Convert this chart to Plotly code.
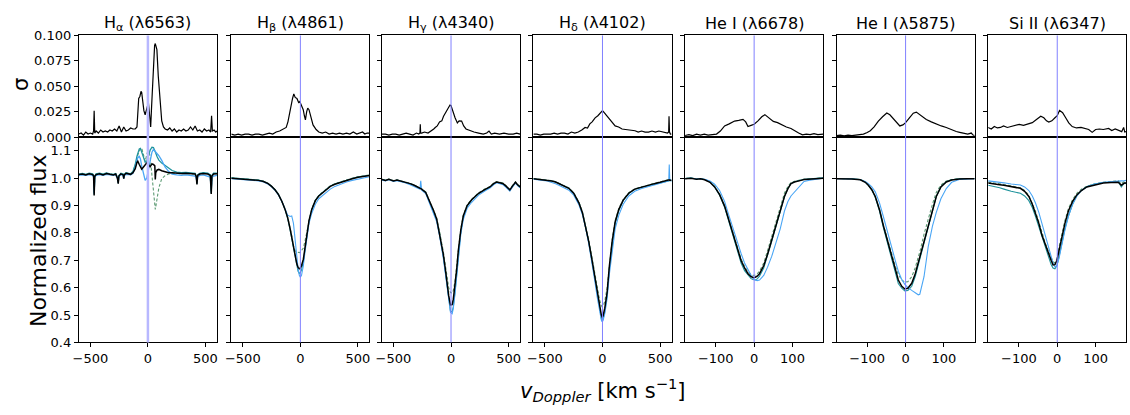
import plotly.graph_objects as go

# ---------------- tick labels / categories ----------------
TITLES = ["H<sub>α</sub> (λ6563)", "H<sub>β</sub> (λ4861)", "H<sub>γ</sub> (λ4340)",
          "H<sub>δ</sub> (λ4102)", "He I (λ6678)", "He I (λ5875)", "Si II (λ6347)"]
X_TICKS_WIDE = [-500, 0, 500]
X_TICKS_NARROW = [-100, 0, 100]
SIG_TICKS = [0.0, 0.025, 0.05, 0.075, 0.1]
SIG_LABELS = ["0.000", "0.025", "0.050", "0.075", "0.100"]
FLUX_TICKS = [0.4, 0.5, 0.6, 0.7, 0.8, 0.9, 1.0, 1.1]
FLUX_LABELS = ["0.4", "0.5", "0.6", "0.7", "0.8", "0.9", "1.0", "1.1"]
REST_V = 0

# ---------------- H alpha ----------------
HA_SIG_V = [-600,-580,-560,-540,-520,-500,-480,-472,-467,-462,
            -450,-430,-410,-390,-370,-350,-330,-310,-290,-270,
            -250,-230,-210,-190,-170,-150,-130,-110,-95,-88,
            -80,-70,-60,-54,-45,-35,-24,-12,4,12,
            18,24,32,45,58,64,70,78,90,105,
            120,135,150,170,190,210,230,250,270,290,
            310,330,350,370,390,410,430,450,470,490,
            510,530,545,553,560,575,590,600]
HA_SIG = [0.003,0.004,0.002,0.005,0.003,0.004,0.003,0.006,0.026,0.004,
          0.006,0.004,0.007,0.005,0.006,0.005,0.007,0.006,0.008,0.006,
          0.011,0.005,0.010,0.006,0.007,0.009,0.008,0.008,0.010,0.020,
          0.038,0.040,0.045,0.044,0.035,0.026,0.022,0.028,0.034,0.025,
          0.015,0.010,0.030,0.068,0.090,0.092,0.088,0.086,0.060,0.032,
          0.016,0.010,0.008,0.007,0.009,0.006,0.008,0.005,0.007,0.006,
          0.008,0.006,0.007,0.010,0.007,0.011,0.006,0.007,0.005,0.008,
          0.006,0.007,0.005,0.021,0.006,0.007,0.005,0.006]
HA_V = [-600,-570,-540,-510,-480,-472,-467,-462,-450,-420,
        -390,-360,-330,-300,-280,-265,-258,-252,-235,-215,
        -210,-205,-190,-170,-150,-130,-110,-95,-88,-75,
        -65,-54,-40,-24,-10,4,19,35,48,60,
        64,68,80,95,120,150,180,210,250,290,
        330,370,410,420,426,432,450,480,520,542,
        550,556,570,600]
HA_MEAN = [1.013,1.015,1.012,1.016,1.013,1.008,0.937,1.006,1.013,1.016,
           1.012,1.017,1.014,1.012,1.015,1.000,0.980,1.008,1.016,1.012,
           0.998,1.012,1.018,1.016,1.014,1.020,1.035,1.058,1.062,1.050,
           1.042,1.033,1.040,1.050,1.056,1.050,1.042,1.052,1.050,1.045,
           0.995,1.020,1.030,1.032,1.027,1.024,1.020,1.020,1.018,1.017,
           1.018,1.016,1.015,1.005,0.977,1.010,1.015,1.017,1.015,1.010,
           0.942,1.008,1.015,1.016]
HA_BLUE = [1.010,1.012,1.010,1.013,1.010,1.005,0.945,1.004,1.010,1.013,
           1.010,1.014,1.012,1.010,1.013,1.000,0.985,1.006,1.013,1.010,
           0.998,1.010,1.014,1.012,1.012,1.018,1.040,1.065,1.075,1.080,
           1.070,1.045,1.015,0.992,1.000,1.030,1.070,1.095,1.105,1.100,
           1.098,1.096,1.090,1.082,1.065,1.040,1.025,1.015,1.012,1.010,
           1.012,1.010,1.008,1.000,0.985,1.005,1.010,1.012,1.008,1.004,
           0.955,1.002,1.008,1.010]
HA_TEAL = [1.015,1.017,1.014,1.018,1.016,1.010,0.940,1.008,1.016,1.018,
           1.015,1.019,1.016,1.014,1.017,1.003,0.982,1.010,1.018,1.015,
           1.000,1.014,1.020,1.018,1.016,1.025,1.050,1.080,1.094,1.107,
           1.109,1.095,1.072,1.058,1.062,1.085,1.102,1.113,1.112,1.100,
           1.097,1.092,1.078,1.066,1.055,1.045,1.035,1.028,1.022,1.020,
           1.021,1.019,1.018,1.008,0.980,1.012,1.018,1.020,1.018,1.012,
           0.945,1.010,1.018,1.018]
HA_GREEN = [1.014,1.016,1.013,1.017,1.015,1.009,0.950,1.007,1.015,1.017,
            1.014,1.018,1.015,1.013,1.016,1.004,0.985,1.009,1.017,1.014,
            1.002,1.013,1.019,1.017,1.015,1.022,1.045,1.070,1.085,1.100,
            1.108,1.110,1.090,1.062,1.085,1.108,1.080,1.000,0.935,0.888,
            0.886,0.895,0.930,0.965,0.998,1.010,1.015,1.018,1.017,1.016,
            1.017,1.016,1.015,1.006,0.985,1.010,1.016,1.018,1.016,1.010,
            0.950,1.008,1.016,1.017]

# ---------------- H beta ----------------
HB_SIG_V = [-600,-570,-540,-510,-480,-450,-420,-390,-360,-330,
            -300,-270,-240,-210,-180,-160,-140,-123,-108,-94,
            -80,-68,-57,-45,-30,-15,-5,10,25,35,
            44,55,64,75,90,110,137,160,190,220,
            250,280,310,340,370,400,430,460,490,520,
            540,560,580,600]
HB_SIG = [0.003,0.002,0.003,0.002,0.003,0.003,0.002,0.003,0.003,0.002,
          0.003,0.004,0.003,0.005,0.006,0.007,0.008,0.0095,0.015,0.024,
          0.031,0.038,0.0425,0.039,0.038,0.034,0.035,0.031,0.027,0.021,
          0.017,0.025,0.0285,0.027,0.020,0.012,0.0075,0.005,0.004,0.005,
          0.003,0.004,0.003,0.004,0.003,0.004,0.003,0.005,0.003,0.004,
          0.005,0.003,0.004,0.004]
HB_V = [-600,-550,-500,-450,-400,-364,-320,-280,-250,-219,
        -190,-160,-133,-110,-89,-75,-60,-45,-31,-20,
        -9,0,10,26,40,55,75,99,130,160,
        186,220,260,300,359,400,450,500,550,600]
HB_MEAN = [1.000,0.998,0.996,0.995,0.994,0.992,0.988,0.980,0.970,0.957,
           0.940,0.915,0.886,0.855,0.816,0.785,0.745,0.712,0.687,0.674,
           0.669,0.672,0.680,0.704,0.745,0.792,0.845,0.886,0.918,0.935,
           0.945,0.958,0.970,0.978,0.986,0.993,0.998,1.003,1.007,1.010]
HB_BLUE = [0.998,0.996,0.994,0.993,0.992,0.990,0.986,0.978,0.968,0.955,
           0.938,0.915,0.888,0.865,0.860,0.862,0.835,0.770,0.710,0.670,
           0.645,0.638,0.645,0.680,0.730,0.785,0.835,0.872,0.905,0.925,
           0.935,0.948,0.960,0.970,0.980,0.986,0.992,0.997,1.002,1.005]
HB_TEAL = [1.001,0.999,0.997,0.996,0.995,0.993,0.989,0.981,0.971,0.958,
           0.941,0.915,0.885,0.852,0.810,0.778,0.742,0.705,0.675,0.660,
           0.652,0.655,0.665,0.695,0.740,0.790,0.843,0.886,0.918,0.936,
           0.946,0.959,0.971,0.979,0.987,0.994,0.999,1.004,1.008,1.011]
HB_GREEN = [1.001,0.999,0.997,0.996,0.995,0.993,0.989,0.981,0.971,0.958,
            0.941,0.916,0.888,0.858,0.820,0.790,0.752,0.735,0.730,0.728,
            0.728,0.730,0.735,0.745,0.770,0.800,0.848,0.888,0.920,0.937,
            0.947,0.960,0.972,0.980,0.988,0.995,1.000,1.005,1.009,1.012]

# ---------------- H gamma ----------------
HG_SIG_V = [-600,-570,-540,-510,-480,-450,-420,-390,-360,-330,
            -300,-280,-270,-267,-264,-255,-230,-200,-170,-150,
            -137,-120,-100,-80,-65,-45,-30,-20,-9,0,
            10,20,35,55,70,92,110,130,165,200,
            240,280,310,330,350,380,420,460,500,540,
            570,600]
HG_SIG = [0.003,0.003,0.002,0.003,0.003,0.002,0.003,0.004,0.003,0.002,
          0.004,0.003,0.004,0.0126,0.004,0.004,0.005,0.004,0.006,0.008,
          0.0095,0.011,0.015,0.016,0.0205,0.024,0.027,0.029,0.0316,0.031,
          0.027,0.0237,0.019,0.014,0.016,0.0158,0.011,0.008,0.0063,0.005,
          0.004,0.003,0.004,0.006,0.003,0.004,0.003,0.004,0.003,0.003,
          0.004,0.003]
HG_V = [-600,-570,-540,-500,-470,-440,-400,-355,-320,-290,
        -270,-263,-255,-220,-182,-150,-125,-100,-80,-67,
        -50,-38,-20,-5,10,20,35,50,63,85,
        107,140,179,240,300,338,370,395,425,453,
        480,511,535,560,580,600]
HG_MEAN = [0.995,0.992,0.996,0.990,0.993,0.990,0.986,0.980,0.974,0.968,
           0.964,0.962,0.960,0.948,0.912,0.880,0.851,0.800,0.760,0.722,
           0.670,0.628,0.570,0.537,0.538,0.558,0.605,0.670,0.734,0.810,
           0.863,0.900,0.921,0.945,0.960,0.968,0.980,0.986,0.983,0.980,
           0.970,0.957,0.972,0.985,0.975,0.968]
HG_BLUE = [0.993,0.990,0.994,0.988,0.991,0.988,0.983,0.976,0.970,0.964,
           0.960,0.990,0.956,0.944,0.905,0.872,0.842,0.790,0.748,0.708,
           0.655,0.612,0.550,0.510,0.505,0.525,0.580,0.652,0.718,0.795,
           0.850,0.890,0.912,0.938,0.955,0.964,0.976,0.983,0.980,0.976,
           0.966,0.953,0.968,0.982,0.972,0.965]
HG_TEAL = [0.995,0.992,0.996,0.990,0.993,0.990,0.986,0.980,0.974,0.968,
           0.964,0.962,0.960,0.948,0.910,0.878,0.848,0.796,0.754,0.714,
           0.660,0.617,0.556,0.515,0.512,0.530,0.585,0.658,0.726,0.804,
           0.860,0.898,0.920,0.944,0.959,0.967,0.979,0.985,0.982,0.979,
           0.969,0.956,0.971,0.984,0.974,0.967]
HG_GREEN = [0.996,0.993,0.997,0.991,0.994,0.991,0.987,0.981,0.975,0.969,
            0.965,0.963,0.961,0.950,0.915,0.884,0.856,0.806,0.768,0.732,
            0.684,0.645,0.600,0.582,0.580,0.590,0.625,0.684,0.742,0.815,
            0.866,0.902,0.923,0.947,0.962,0.970,0.982,0.988,0.985,0.982,
            0.972,0.959,0.974,0.987,0.977,0.970]

# ---------------- H delta ----------------
HD_SIG_V = [-600,-570,-540,-510,-480,-450,-420,-390,-360,-330,
            -300,-270,-240,-210,-180,-151,-130,-110,-90,-64,
            -40,-20,0,15,30,52,70,90,110,140,
            170,200,230,260,283,310,340,370,400,430,
            460,490,520,543,565,575,578,582,590,600]
HD_SIG = [0.003,0.003,0.002,0.003,0.003,0.003,0.004,0.003,0.004,0.004,
          0.003,0.005,0.004,0.005,0.007,0.0095,0.009,0.013,0.015,0.019,
          0.021,0.024,0.026,0.024,0.022,0.019,0.016,0.014,0.011,0.010,
          0.008,0.0075,0.007,0.006,0.0063,0.005,0.006,0.005,0.005,0.006,
          0.005,0.006,0.005,0.0047,0.004,0.005,0.0205,0.005,0.003,0.003]
HD_V = [-600,-560,-520,-480,-440,-407,-370,-330,-292,-250,
        -205,-175,-147,-120,-90,-68,-46,-25,-10,-3,
        5,20,40,60,84,110,142,180,228,280,
        340,402,450,500,540,570,576,580,584,600]
HD_MEAN = [0.998,0.996,0.995,0.994,0.990,0.986,0.978,0.970,0.963,0.945,
           0.910,0.875,0.827,0.770,0.699,0.640,0.581,0.530,0.500,0.493,
           0.497,0.525,0.581,0.680,0.769,0.840,0.886,0.920,0.945,0.960,
           0.968,0.974,0.980,0.985,0.990,0.992,0.993,0.994,0.992,0.992]
HD_BLUE = [0.996,0.993,0.992,0.990,0.985,0.980,0.972,0.963,0.956,0.938,
           0.903,0.868,0.820,0.762,0.690,0.628,0.566,0.512,0.482,0.475,
           0.480,0.505,0.560,0.650,0.740,0.815,0.865,0.905,0.935,0.952,
           0.962,0.970,0.977,0.982,0.986,0.990,0.995,1.050,0.998,0.988]
HD_TEAL = [0.998,0.996,0.995,0.994,0.990,0.986,0.978,0.970,0.963,0.945,
           0.910,0.874,0.825,0.767,0.695,0.634,0.573,0.520,0.488,0.480,
           0.485,0.512,0.570,0.670,0.760,0.835,0.882,0.918,0.944,0.959,
           0.967,0.973,0.979,0.984,0.989,0.991,0.992,0.993,0.991,0.991]
HD_GREEN = [0.999,0.997,0.996,0.995,0.991,0.987,0.979,0.971,0.964,0.947,
            0.913,0.879,0.832,0.777,0.708,0.652,0.598,0.555,0.535,0.530,
            0.532,0.550,0.598,0.690,0.775,0.845,0.889,0.922,0.947,0.961,
            0.969,0.975,0.981,0.986,0.991,0.993,0.994,0.995,0.993,0.993]

# ---------------- He I 6678 ----------------
HE1_SIG_V = [-180,-170,-160,-150,-140,-130,-120,-110,-98,-88,
             -77,-65,-51,-40,-29,-22,-16,-8,0,10,
             20,28,38,50,61,72,84,96,106,116,
             126,136,146,156,166,174,180]
HE1_SIG = [0.0016,0.0025,0.0015,0.003,0.002,0.003,0.002,0.0025,0.003,0.006,
           0.011,0.013,0.0158,0.0165,0.0174,0.015,0.0104,0.0115,0.0126,0.016,
           0.020,0.0221,0.019,0.0155,0.0142,0.012,0.010,0.0085,0.006,0.004,
           0.0022,0.003,0.0025,0.0035,0.0025,0.003,0.003]
HE1_V = [-180,-165,-150,-140,-129,-115,-103,-90,-77,-66,
         -55,-45,-34,-25,-16,-8,-3,3,8,14,
         25,35,46,57,68,79,88,96,105,113,
         122,130,145,160,170,180]
HE1_MEAN = [0.998,1.000,0.996,0.998,0.994,0.985,0.968,0.940,0.898,0.845,
            0.792,0.745,0.699,0.672,0.651,0.640,0.637,0.638,0.642,0.651,
            0.680,0.722,0.775,0.827,0.880,0.933,0.962,0.980,0.986,0.990,
            0.992,0.995,0.996,0.998,0.999,1.000]
HE1_BLUE = [0.998,1.000,0.998,0.998,0.996,0.990,0.978,0.955,0.915,0.865,
            0.815,0.770,0.725,0.690,0.665,0.645,0.635,0.628,0.626,0.628,
            0.645,0.675,0.715,0.765,0.815,0.880,0.915,0.935,0.950,0.960,
            0.975,0.988,0.993,0.996,0.998,1.000]
HE1_TEAL = [0.999,1.001,0.997,0.999,0.995,0.986,0.968,0.938,0.894,0.840,
            0.786,0.738,0.690,0.662,0.645,0.633,0.630,0.628,0.632,0.642,
            0.672,0.716,0.770,0.824,0.878,0.932,0.962,0.980,0.987,0.991,
            0.993,0.996,0.997,0.999,1.000,1.001]
HE1_GREEN = [0.999,1.000,0.997,0.998,0.995,0.987,0.970,0.942,0.900,0.848,
             0.796,0.750,0.705,0.678,0.658,0.648,0.645,0.646,0.650,0.660,
             0.690,0.735,0.790,0.845,0.895,0.945,0.970,0.984,0.989,0.992,
             0.994,0.996,0.997,0.999,1.000,1.001]

# ---------------- He I 5875 ----------------
HE2_SIG_V = [-180,-170,-160,-150,-140,-130,-120,-110,-100,-92,
             -82,-71,-60,-49,-41,-34,-25,-15,-7,0,
             10,20,28,38,54,67,80,93,106,120,
             132,141,152,162,171,176,180]
HE2_SIG = [0.0016,0.002,0.0012,0.002,0.0015,0.002,0.0025,0.003,0.0045,0.0063,
           0.010,0.0158,0.020,0.0237,0.022,0.019,0.015,0.011,0.012,0.0142,
           0.019,0.0235,0.0246,0.022,0.0174,0.015,0.0126,0.011,0.0095,0.007,
           0.0055,0.0047,0.004,0.003,0.004,0.002,0.0016]
HE2_V = [-180,-160,-140,-118,-105,-97,-88,-79,-68,-58,
         -47,-36,-27,-19,-10,-2,6,16,25,33,
         37,48,59,70,80,92,106,120,140,160,
         180]
HE2_MEAN = [0.998,0.998,0.997,0.994,0.985,0.974,0.958,0.933,0.885,0.827,
            0.768,0.710,0.665,0.628,0.605,0.595,0.598,0.616,0.650,0.690,
            0.710,0.770,0.827,0.885,0.933,0.968,0.986,0.993,0.997,0.998,
            0.998]
HE2_BLUE = [0.998,0.998,0.997,0.994,0.988,0.980,0.968,0.950,0.910,0.860,
            0.800,0.745,0.700,0.660,0.630,0.612,0.600,0.590,0.582,0.574,
            0.576,0.640,0.750,0.825,0.875,0.925,0.962,0.985,0.995,0.997,
            0.998]
HE2_TEAL = [0.999,0.999,0.998,0.995,0.986,0.974,0.957,0.930,0.880,0.820,
            0.760,0.700,0.655,0.615,0.598,0.588,0.590,0.605,0.640,0.682,
            0.702,0.765,0.824,0.884,0.933,0.968,0.987,0.994,0.998,0.999,
            0.999]
HE2_GREEN = [0.999,0.999,0.998,0.995,0.986,0.975,0.958,0.932,0.886,0.830,
             0.775,0.722,0.680,0.648,0.628,0.620,0.622,0.640,0.672,0.712,
             0.730,0.795,0.855,0.905,0.948,0.975,0.990,0.995,0.998,0.999,
             0.999]

# ---------------- Si II 6347 ----------------
SI_SIG_V = [-180,-172,-164,-156,-148,-140,-130,-120,-110,-99,
            -88,-77,-65,-55,-43,-35,-28,-22,-14,-6,
            0,6,14,22,30,39,50,62,73,82,
            91,100,110,120,134,142,151,160,168,173,
            176,180]
SI_SIG = [0.0095,0.008,0.0105,0.009,0.0095,0.011,0.0095,0.0105,0.011,0.0126,
          0.0115,0.013,0.0142,0.017,0.0205,0.019,0.016,0.0148,0.016,0.019,
          0.021,0.0263,0.024,0.019,0.014,0.0104,0.009,0.0095,0.0085,0.0075,
          0.0047,0.0075,0.008,0.0075,0.0085,0.0065,0.008,0.007,0.0054,0.0095,
          0.005,0.0055]
SI_V = [-180,-165,-150,-139,-120,-96,-85,-74,-65,-57,
        -48,-40,-31,-22,-16,-11,-6,-1,5,12,
        20,29,40,51,63,77,95,120,140,159,
        163,167,171,175,180]
SI_MEAN = [0.982,0.978,0.976,0.974,0.969,0.963,0.952,0.933,0.905,0.875,
           0.835,0.792,0.755,0.722,0.700,0.683,0.684,0.699,0.740,0.792,
           0.835,0.880,0.915,0.939,0.955,0.968,0.975,0.982,0.984,0.985,
           0.980,0.974,0.978,0.982,0.982]
SI_BLUE = [0.990,0.988,0.985,0.983,0.979,0.975,0.968,0.955,0.935,0.910,
           0.875,0.835,0.790,0.745,0.712,0.690,0.676,0.680,0.710,0.760,
           0.810,0.860,0.905,0.935,0.955,0.968,0.978,0.985,0.988,0.990,
           0.992,0.990,0.990,0.992,0.992]
SI_TEAL = [0.974,0.970,0.965,0.960,0.952,0.945,0.935,0.918,0.893,0.862,
           0.822,0.782,0.745,0.710,0.685,0.672,0.669,0.680,0.715,0.765,
           0.815,0.862,0.905,0.935,0.955,0.970,0.978,0.984,0.985,0.986,
           0.978,0.968,0.975,0.982,0.980]
SI_GREEN = [0.986,0.983,0.980,0.978,0.972,0.965,0.955,0.937,0.910,0.880,
            0.840,0.800,0.762,0.730,0.710,0.695,0.690,0.705,0.750,0.800,
            0.845,0.888,0.922,0.945,0.960,0.970,0.978,0.985,0.988,0.990,
            0.986,0.980,0.984,0.988,0.988]

PANELS = [
    (HA_SIG_V, HA_SIG, HA_V, HA_MEAN, HA_BLUE, HA_TEAL, HA_GREEN, 600, X_TICKS_WIDE),
    (HB_SIG_V, HB_SIG, HB_V, HB_MEAN, HB_BLUE, HB_TEAL, HB_GREEN, 600, X_TICKS_WIDE),
    (HG_SIG_V, HG_SIG, HG_V, HG_MEAN, HG_BLUE, HG_TEAL, HG_GREEN, 600, X_TICKS_WIDE),
    (HD_SIG_V, HD_SIG, HD_V, HD_MEAN, HD_BLUE, HD_TEAL, HD_GREEN, 600, X_TICKS_WIDE),
    (HE1_SIG_V, HE1_SIG, HE1_V, HE1_MEAN, HE1_BLUE, HE1_TEAL, HE1_GREEN, 180, X_TICKS_NARROW),
    (HE2_SIG_V, HE2_SIG, HE2_V, HE2_MEAN, HE2_BLUE, HE2_TEAL, HE2_GREEN, 180, X_TICKS_NARROW),
    (SI_SIG_V, SI_SIG, SI_V, SI_MEAN, SI_BLUE, SI_TEAL, SI_GREEN, 180, X_TICKS_NARROW),
]

# ---------------- layout geometry (pixels) ----------------
W, H = 1130, 415
PANEL_LEFT = [73.3, 226.7, 378.3, 530.7, 683.3, 835.7, 988.3]
PANEL_W = 139.0
TOP_Y0, MID_Y, BOT_Y1 = 29.5, 135.0, 348.0

C_BLUE = "#4aa6f5"
C_TEAL = "#1f939c"
C_GREEN = "#5a9a72"
FONT = "DejaVu Sans"

fig = go.Figure()
layout = dict(
    width=W, height=H, margin=dict(l=0, r=0, t=0, b=0),
    paper_bgcolor="white", plot_bgcolor="white", showlegend=False,
    font=dict(family=FONT, size=13, color="black"),
)
shapes = []
annotations = []

def py(p):
    return 1 - p / H

for i, (sv, ss, v, mean, blue, teal, green, xr, xt) in enumerate(PANELS):
    nt, nb = 2 * i + 1, 2 * i + 2
    xd = [PANEL_LEFT[i] / W, (PANEL_LEFT[i] + PANEL_W) / W]
    common = dict(showline=True, mirror=True, linecolor="black", linewidth=1,
                  showgrid=False, zeroline=False, ticks="outside", ticklen=4,
                  tickwidth=1, tickcolor="black",
                  tickfont=dict(family=FONT, size=13, color="black"))
    layout[f"xaxis{nt}"] = dict(common, domain=xd, range=[-xr, xr], anchor=f"y{nt}",
                                showticklabels=False, ticks="")
    layout[f"yaxis{nt}"] = dict(common, domain=[py(MID_Y), py(TOP_Y0)], range=[0, 0.1],
                                anchor=f"x{nt}", tickvals=SIG_TICKS, ticktext=SIG_LABELS,
                                showticklabels=(i == 0))
    layout[f"xaxis{nb}"] = dict(common, domain=xd, range=[-xr, xr], anchor=f"y{nb}",
                                tickvals=xt)
    layout[f"yaxis{nb}"] = dict(common, domain=[py(BOT_Y1), py(MID_Y)], range=[0.4, 1.15],
                                anchor=f"x{nb}", tickvals=FLUX_TICKS, ticktext=FLUX_LABELS,
                                showticklabels=(i == 0))

    xa_t = "x" if nt == 1 else f"x{nt}"
    ya_t = "y" if nt == 1 else f"y{nt}"
    xa_b, ya_b = f"x{nb}", f"y{nb}"
    lw = 1.3 if i == 0 else 1.1

    fig.add_trace(go.Scatter(x=sv, y=ss, mode="lines", xaxis=xa_t, yaxis=ya_t,
                             line=dict(color="black", width=1.2)))
    fig.add_trace(go.Scatter(x=v, y=green, mode="lines", xaxis=xa_b, yaxis=ya_b,
                             line=dict(color=C_GREEN, width=1.1, dash="3px,2px")))
    fig.add_trace(go.Scatter(x=v, y=teal, mode="lines", xaxis=xa_b, yaxis=ya_b,
                             line=dict(color=C_TEAL, width=lw)))
    fig.add_trace(go.Scatter(x=v, y=blue, mode="lines", xaxis=xa_b, yaxis=ya_b,
                             line=dict(color=C_BLUE, width=lw)))
    fig.add_trace(go.Scatter(x=v, y=mean, mode="lines", xaxis=xa_b, yaxis=ya_b,
                             line=dict(color="black", width=1.5)))

    # rest-velocity marker spanning both rows
    if i == 0:
        vl = dict(color="#b8b8ff", width=2.5)
    else:
        vl = dict(color="#8080ff", width=1)
    shapes.append(dict(type="line", xref=xa_b, x0=REST_V, x1=REST_V,
                       yref="paper", y0=py(BOT_Y1), y1=py(TOP_Y0), line=vl, layer="above"))

    annotations.append(dict(text=TITLES[i], x=(PANEL_LEFT[i] + PANEL_W / 2) / W, y=py(17),
                            xref="paper", yref="paper", showarrow=False,
                            xanchor="center", yanchor="middle",
                            font=dict(family=FONT, size=16, color="black")))

annotations.append(dict(text="σ", x=15 / W, y=py(80), xref="paper", yref="paper",
                        showarrow=False, textangle=-90, xanchor="center", yanchor="middle",
                        font=dict(family=FONT, size=21, color="black")))
annotations.append(dict(text="Normalized flux", x=32 / W, y=py(242), xref="paper", yref="paper",
                        showarrow=False, textangle=-90, xanchor="center", yanchor="middle",
                        font=dict(family=FONT, size=22, color="black")))
annotations.append(dict(text="<i>v</i><sub><i>Doppler</i></sub> [km s<sup>−1</sup>]",
                        x=601 / W, y=py(397), xref="paper", yref="paper",
                        showarrow=False, xanchor="center", yanchor="middle",
                        font=dict(family=FONT, size=21, color="black")))

layout["shapes"] = shapes
layout["annotations"] = annotations
fig.update_layout(**layout)
fig.write_html("out.html", config={"displayModeBar": False, "staticPlot": True},
               post_script="document.body.style.margin='0';document.body.style.padding='0';")
